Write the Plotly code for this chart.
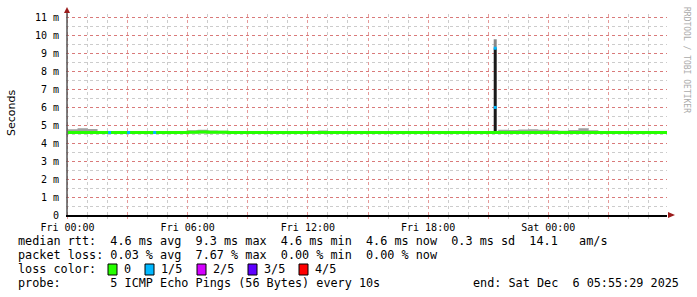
import plotly.graph_objects as go
from datetime import datetime, timedelta

# ---------------- data ----------------
start_time = "2025-12-05 00:00:00"
# half-hour sample offsets (hours from Fri 00:00)
hours = [0.0, 0.5, 1.0, 1.5, 2.0, 2.5, 3.0, 3.5, 4.0, 4.5, 5.0, 5.5, 6.0, 6.5, 7.0, 7.5,
         8.0, 8.5, 9.0, 9.5, 10.0, 10.5, 11.0, 11.5, 12.0, 12.5, 13.0, 13.5, 14.0, 14.5,
         15.0, 15.5, 16.0, 16.5, 17.0, 17.5, 18.0, 18.5, 19.0, 19.5, 20.0, 20.5, 21.0,
         21.5, 22.0, 22.5, 23.0, 23.5, 24.0, 24.5, 25.0, 25.5, 26.0, 26.5, 27.0, 27.5,
         28.0, 28.5, 29.0, 29.5, 29.93]
median_ms = [4.6, 4.6, 4.6, 4.6, 4.6, 4.6, 4.6, 4.6, 4.6, 4.6, 4.6, 4.6, 4.62, 4.63, 4.62, 4.61,
             4.6, 4.6, 4.6, 4.6, 4.6, 4.6, 4.6, 4.6, 4.6, 4.6, 4.6, 4.6, 4.6, 4.6,
             4.6, 4.6, 4.6, 4.6, 4.6, 4.6, 4.6, 4.6, 4.6, 4.6, 4.6, 4.6, 4.6,
             4.6, 4.6, 4.6, 4.6, 4.6, 4.6, 4.6, 4.6, 4.6, 4.6, 4.6, 4.6, 4.6,
             4.6, 4.6, 4.6, 4.6, 4.6]
smoke_hi_ms = [4.78, 4.84, 4.8, 4.68, 4.65, 4.66, 4.67, 4.65, 4.66, 4.68, 4.65, 4.69, 4.73, 4.76, 4.71, 4.7,
               4.69, 4.67, 4.68, 4.69, 4.67, 4.68, 4.67, 4.65, 4.67, 4.71, 4.65, 4.67, 4.68, 4.65,
               4.67, 4.65, 4.67, 4.66, 4.65, 4.66, 4.65, 4.67, 4.65, 4.66, 4.65, 4.66, 4.67,
               4.76, 4.74, 4.77, 4.78, 4.75, 4.72, 4.7, 4.74, 4.84, 4.72, 4.69, 4.67, 4.66,
               4.67, 4.65, 4.66, 4.65, 4.65]
smoke_lo_ms = [4.55] * 61

loss_hours = [2.1, 3.05, 4.35]
loss_ms = [4.6, 4.6, 4.6]

spike_hour = 21.35
spike_dark_top = 9.3
spike_smoke_top = 9.8
spike_loss_ms = [9.3, 6.0]

y_ticks = [0, 1, 2, 3, 4, 5, 6, 7, 8, 9, 10, 11]
y_tick_labels = ["0", "1 m", "2 m", "3 m", "4 m", "5 m", "6 m", "7 m", "8 m", "9 m", "10 m", "11 m"]

loss_labels = ["0", "1/5", "2/5", "3/5", "4/5"]
loss_colors = ["#26ff00", "#00b8ff", "#d400ff", "#5e00ff", "#ff0000"]

stats_lines = [
    "median rtt:  4.6 ms avg  9.3 ms max  4.6 ms min  4.6 ms now  0.3 ms sd  14.1   am/s",
    "packet loss: 0.03 % avg  7.67 % max  0.00 % min  0.00 % now",
    "loss color:",
    "probe:       5 ICMP Echo Pings (56 Bytes) every 10s",
]
end_text = "end: Sat Dec  6 05:55:29 2025"

# ---------------- helpers ----------------
t0 = datetime.strptime(start_time, "%Y-%m-%d %H:%M:%S")
def ts(h):
    return t0 + timedelta(hours=h)

W, H = 697, 297
ML, MR, MT, MB = 66, 30, 14, 82
PW, PH = W - ML - MR, H - MT - MB
def px(x):
    return (x - ML) / PW
def py(y):
    return (H - MB - y) / PH

nb = lambda s: s.replace(" ", "\u00a0")
MONO = "DejaVu Sans Mono"
RED_GRID = "#e59a9a"
RED_GRID_Y = "#d97a7a"
GRAY_GRID = "#cccccc"

fig = go.Figure()

xs = [ts(h) for h in hours]
# smoke band
fig.add_trace(go.Scatter(x=xs, y=smoke_lo_ms, mode="lines", line=dict(width=0, shape="hv"),
                         hoverinfo="skip", showlegend=False))
fig.add_trace(go.Scatter(x=xs, y=smoke_hi_ms, mode="lines", line=dict(width=0, shape="hv"),
                         fill="tonexty", fillcolor="#a0a0a0", hoverinfo="skip", showlegend=False))

# spike
bw = 0.15 * 3600 * 1000
fig.add_trace(go.Bar(x=[ts(spike_hour)], y=[spike_smoke_top - spike_dark_top], base=[spike_dark_top],
                     width=[bw], marker=dict(color="#888888", line=dict(width=0)), showlegend=False))
fig.add_trace(go.Bar(x=[ts(spike_hour)], y=[spike_dark_top - 4.6], base=[4.6],
                     width=[bw], marker=dict(color="#1a1a1a", line=dict(width=0)), showlegend=False))

# median line
fig.add_trace(go.Scatter(x=xs, y=median_ms, mode="lines", line=dict(color=loss_colors[0], width=3, shape="hv"),
                         hoverinfo="skip", showlegend=False))
# loss markers
fig.add_trace(go.Scatter(x=[ts(h) for h in loss_hours] + [ts(spike_hour)] * len(spike_loss_ms),
                         y=loss_ms + spike_loss_ms, mode="markers",
                         marker=dict(symbol="square", size=3, color=loss_colors[1], line=dict(width=0)),
                         showlegend=False))

major_x = [ts(h) for h in range(0, 30, 3)]
major_txt = [ts(h).strftime("%a %H:%M") if h % 6 == 0 else "" for h in range(0, 30, 3)]
minor_x = [ts(h) for h in range(0, 30) if h % 3 != 0]
minor_y = [k + 0.5 for k in range(0, 11)]

fig.update_layout(
    width=W, height=H, margin=dict(l=ML, r=MR, t=MT, b=MB),
    paper_bgcolor="white", plot_bgcolor="white",
    barmode="overlay", showlegend=False,
    xaxis=dict(range=[ts(-4.5 / 60), ts(30 - 4.5 / 60)], tickmode="array", tickvals=major_x, ticktext=major_txt,
               showgrid=True, gridcolor=RED_GRID, griddash="dot", gridwidth=1,
               showline=True, linecolor="black", linewidth=1.5,
               ticks="outside", ticklen=2, tickcolor=RED_GRID,
               tickfont=dict(family=MONO, size=10, color="black"),
               minor=dict(tickmode="array", tickvals=minor_x, showgrid=True, gridcolor=GRAY_GRID, griddash="dot",
                          ticks="outside", ticklen=2, tickcolor=GRAY_GRID),
               zeroline=False, fixedrange=True),
    yaxis=dict(range=[0, PH / 17.93], tickmode="array", tickvals=y_ticks, ticktext=y_tick_labels,
               showgrid=True, gridcolor=RED_GRID_Y, griddash="dot", gridwidth=1,
               showline=False, ticks="", ticklen=0, tickcolor="black", ticklabelstandoff=6,
               tickfont=dict(family=MONO, size=10, color="black"),
               minor=dict(tickmode="array", tickvals=minor_y, showgrid=True, gridcolor=GRAY_GRID, griddash="dot",
                          ticks="", ticklen=0),
               zeroline=False, fixedrange=True),
)

shapes = []
# y axis line extending above plot + arrow
shapes.append(dict(type="line", xref="paper", yref="paper", x0=px(67), x1=px(67), y0=py(215), y1=py(11),
                   line=dict(color="#555555", width=1.5)))
shapes.append(dict(type="path", xref="paper", yref="paper",
                   path=f"M {px(64)} {py(13)} L {px(70)} {py(13)} L {px(67)} {py(7)} Z",
                   fillcolor="#9b1c1c", line=dict(width=0)))
# x axis arrow
shapes.append(dict(type="path", xref="paper", yref="paper",
                   path=f"M {px(668)} {py(212)} L {px(668)} {py(218)} L {px(675)} {py(215)} Z",
                   fillcolor="#9b1c1c", line=dict(width=0)))
# legend squares
sq_x = [108, 145, 197, 248, 299]
for cx, col in zip(sq_x, loss_colors):
    shapes.append(dict(type="rect", xref="paper", yref="paper",
                       x0=px(cx), x1=px(cx + 9), y0=py(275), y1=py(264),
                       fillcolor=col, line=dict(color="black", width=1)))
fig.update_layout(shapes=shapes)

ann = []
line_y = [241, 255, 269, 283]
FS = 11.8
for s, yy in zip(stats_lines, line_y):
    ann.append(dict(text=nb(s), xref="paper", yref="paper", x=px(16), y=py(yy), xanchor="left", yanchor="middle",
                    showarrow=False, font=dict(family=MONO, size=FS, color="black")))
for cx, lab in zip(sq_x, loss_labels):
    ann.append(dict(text=lab, xref="paper", yref="paper", x=px(cx + 14), y=py(269), xanchor="left", yanchor="middle",
                    showarrow=False, font=dict(family=MONO, size=FS, color="black")))
ann.append(dict(text=nb(end_text), xref="paper", yref="paper", x=px(681), y=py(283), xanchor="right",
                yanchor="middle", showarrow=False, font=dict(family=MONO, size=FS, color="black")))
ann.append(dict(text="Seconds", xref="paper", yref="paper", x=px(11), y=py(113), textangle=-90,
                xanchor="center", yanchor="middle", showarrow=False,
                font=dict(family="DejaVu Sans", size=11, color="black")))
ann.append(dict(text=nb("RRDTOOL / TOBI OETIKER"), xref="paper", yref="paper", x=px(686), y=py(60), textangle=90,
                xanchor="center", yanchor="middle", showarrow=False,
                font=dict(family=MONO, size=8, color="#aaaaaa")))
fig.update_layout(annotations=ann)

fig.write_html("out.html")
